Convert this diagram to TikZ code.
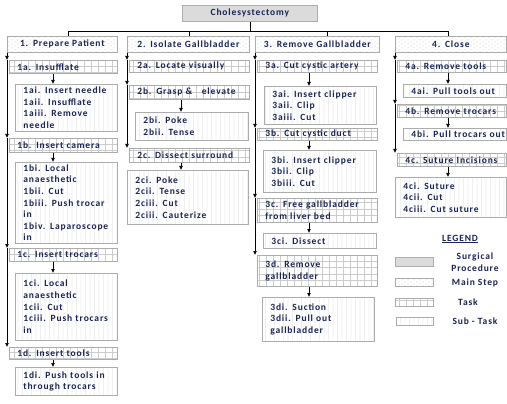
\documentclass[tikz,border=0pt]{standalone}
\usepackage{fontspec}
\setmainfont{Carlito}[LetterSpace=9]
\usepackage{tikz}
\usetikzlibrary{arrows.meta,patterns.meta}

\definecolor{ink}{RGB}{25,35,85}

% Muster
\tikzdeclarepattern{name=procdots, type=uncolored,
  bottom left={(-.5pt,-.5pt)}, top right={(2.5pt,2.5pt)}, tile size={(2pt,2pt)},
  code={\fill (0pt,0pt) circle[radius=.35pt]; \fill (1pt,1pt) circle[radius=.35pt];}}
\tikzdeclarepattern{name=stepdots, type=uncolored,
  bottom left={(-1pt,-1pt)}, top right={(7pt,5pt)}, tile size={(6pt,4pt)},
  code={\fill (0pt,0pt) circle[radius=.5pt]; \fill (3pt,2pt) circle[radius=.5pt];}}
\tikzdeclarepattern{name=taskgrid, type=uncolored,
  bottom left={(-.5pt,-.5pt)}, top right={(7.5pt,7pt)}, tile size={(7pt,6.5pt)},
  code={\draw[line width=.4pt] (0pt,0pt) -- (7pt,0pt); \draw[line width=.4pt] (0pt,0pt) -- (0pt,6.5pt);}}
\tikzdeclarepattern{name=subdots, type=uncolored,
  bottom left={(-.5pt,-.5pt)}, top right={(5pt,2.5pt)}, tile size={(4.5pt,2pt)},
  code={\fill (0pt,0pt) circle[radius=.4pt];}}

\begin{document}
\begin{tikzpicture}[x=1pt, y=-1pt,
  every node/.style={font=\bfseries\fontsize{9.5}{11.6}\selectfont, text=ink},
  bx/.style 2 args={anchor=north west, minimum width=#1pt, minimum height=#2pt,
    text width=#1pt-6pt, inner xsep=3pt, inner ysep=1pt},
  lpad/.style={align=left, execute at begin node={\leftskip=5pt\rightskip=0pt minus 30pt\relax}},
  proc/.style={draw=gray!65, line width=.7pt, fill=gray!22,
    postaction={pattern=procdots, pattern color=gray!55}},
  mstep/.style={draw=gray!65, line width=.7pt, pattern=stepdots, pattern color=gray!55},
  task/.style={draw=gray!65, line width=.7pt, pattern=taskgrid, pattern color=gray!40},
  subtask/.style={draw=gray!65, line width=.7pt, pattern=subdots, pattern color=gray!55},
  lbox/.style 2 args={anchor=north west, minimum width=#1pt, minimum height=#2pt, inner sep=0pt},
  link/.style={line width=.7pt, black},
  arr/.style={line width=.7pt, black, -{Latex[length=4pt,width=4pt]}}
]
  \useasboundingbox (0,0) rectangle (507,404);

  % Eingriff
  \node[proc, bx={135}{16}, align=center] (op) at (182,5) {Cholesystectomy};

  % Hauptschritte
  \node[mstep, bx={110}{16}, align=center] (s1) at (7,36) {1. Prepare Patient};
  \node[mstep, bx={122}{16}, align=center] (s2) at (127,36) {2. Isolate Gallbladder};
  \node[mstep, bx={124}{16}, align=center] (s3) at (255,36) {3. Remove Gallbladder};
  \node[mstep, bx={111}{16}, align=center] (s4) at (395,36) {4. Close};

  % Spalte 1
  \node[task, lpad, bx={108}{13}] (t1a) at (9,60) {1a. Insufflate};
  \node[subtask, lpad, bx={102}{47}] (u1a) at (15,84) {1ai. Insert needle\\1aii. Insufflate\\1aiii. Remove\\needle};
  \node[task, lpad, bx={108}{14}] (t1b) at (9,138) {1b. Insert camera};
  \node[subtask, lpad, bx={102}{81}] (u1b) at (15,162) {1bi. Local\\anaesthetic\\1bii. Cut\\1biii. Push trocar\\in\\1biv. Laparoscope\\in};
  \node[task, lpad, bx={108}{13}] (t1c) at (9,248) {1c. Insert trocars};
  \node[subtask, lpad, bx={102}{67}] (u1c) at (15,273) {1ci. Local\\anaesthetic\\1cii. Cut\\1ciii. Push trocars\\in};
  \node[task, lpad, bx={108}{12}] (t1d) at (9,347) {1d. Insert tools};
  \node[subtask, lpad, bx={102}{28}] (u1d) at (15,367) {1di. Push tools in\\through trocars};

  % Spalte 2
  \node[task, lpad, bx={120}{12}] (t2a) at (129,60) {2a. Locate visually};
  \node[task, lpad, bx={120}{14}] (t2b) at (129,85) {2b. Grasp \&\ \ \ elevate};
  \node[subtask, lpad, bx={113}{28}] (u2b) at (135,112) {2bi. Poke\\2bii. Tense};
  \node[task, lpad, bx={120}{14}] (t2c) at (129,148) {2c. Dissect surround};
  \node[subtask, lpad, bx={121}{54}] (u2c) at (127,170) {2ci. Poke\\2cii. Tense\\2ciii. Cut\\2ciii. Cauterize};

  % Spalte 3
  \node[task, lpad, bx={120}{12}] (t3a) at (257,60) {3a. Cut cystic artery};
  \node[subtask, lpad, bx={112}{38}] (u3a) at (264,86) {3ai. Insert clipper\\3aii. Clip\\3aiii. Cut};
  \node[task, lpad, bx={120}{12}] (t3b) at (257,128) {3b. Cut cystic duct};
  \node[subtask, lpad, bx={113}{42}] (u3b) at (263,150) {3bi. Insert clipper\\3bii. Clip\\3biii. Cut};
  \node[task, lpad, bx={120}{24}] (t3c) at (257,198) {3c. Free gallbladder\\from liver bed};
  \node[subtask, lpad, bx={113}{15}] (u3c) at (263,233) {3ci. Dissect};
  \node[task, lpad, bx={120}{31}] (t3d) at (257,255) {3d. Remove\\gallbladder};
  \node[subtask, lpad, bx={112}{44}] (u3d) at (262,297) {3di. Suction\\3dii. Pull out\\gallbladder};

  % Spalte 4
  \node[task, lpad, bx={109}{12}] (t4a) at (397,60) {4a. Remove tools};
  \node[subtask, lpad, bx={103}{13}] (u4a) at (403,84) {4ai. Pull tools out};
  \node[task, lpad, bx={109}{13}] (t4b) at (397,104) {4b. Remove trocars};
  \node[subtask, lpad, bx={103}{12}] (u4b) at (403,128) {4bi. Pull trocars out};
  \node[task, lpad, bx={109}{13}] (t4c) at (397,153) {4c. Suture Incisions};
  \node[subtask, lpad, bx={111}{40}] (u4c) at (395,177) {4ci. Suture\\4cii. Cut\\4ciii. Cut suture};

  % Verteiler
  \coordinate (b1) at (68,31);
  \coordinate (b2) at (189,31);
  \coordinate (b3) at (327,31);
  \coordinate (b4) at (448,31);
  \draw[link] (op.south) -- (op.south |- b1);
  \draw[link] (b1) -- (b4);
  \foreach \i in {1,...,4} {\draw[link] (b\i) -- (b\i |- s\i.north);}

  % Staemme
  \draw[arr] (s1.south west) -- (s1.south west |- t1a.north);
  \foreach \a/\b in {t1a/t1b, t1b/t1c, t1c/t1d} {\draw[arr] (s1.south west |- \a.north) -- (s1.south west |- \b.north);}
  \draw[arr] (s2.south west) -- (s2.south west |- t2a.north);
  \foreach \a/\b in {t2a/t2b, t2b/t2c} {\draw[arr] (s2.south west |- \a.north) -- (s2.south west |- \b.north);}
  \draw[arr] (s3.south west) -- (s3.south west |- t3a.north);
  \foreach \a/\b in {t3a/t3b, t3b/t3c, t3c/t3d} {\draw[arr] (s3.south west |- \a.north) -- (s3.south west |- \b.north);}
  \draw[arr] (s4.south west) -- (s4.south west |- t4a.north);
  \foreach \a/\b in {t4a/t4b, t4b/t4c} {\draw[arr] (s4.south west |- \a.north) -- (s4.south west |- \b.north);}

  % Unteraufgaben
  \coordinate (k1) at (53,0);
  \coordinate (k2) at (181,0);
  \coordinate (k3) at (309,0);
  \coordinate (k4) at (448,0);
  \foreach \t/\u/\k in {t1a/u1a/k1, t1b/u1b/k1, t1c/u1c/k1, t1d/u1d/k1,
      t2b/u2b/k2, t2c/u2c/k2, t3a/u3a/k3, t3b/u3b/k3, t3c/u3c/k3, t3d/u3d/k3,
      t4a/u4a/k4, t4b/u4b/k4, t4c/u4c/k4}
    {\draw[arr] (\t.south -| \k) -- (\u.north -| \k);}

  % Legende
  \node (lg) at (460,239) {\underline{LEGEND}};
  \node[proc, lbox={38}{9}] (lb1) at (395,257) {};
  \node[mstep, lbox={38}{8}] (lb2) at (395,278) {};
  \node[task, lbox={38}{8}] (lb3) at (395,298) {};
  \node[subtask, lbox={37}{8}] (lb4) at (396,317) {};
  \node[align=center] (lt1) at (475,262) {Surgical\\Procedure};
  \node (lt2) at (475,283) {Main Step};
  \node (lt3) at (468,302) {Task};
  \node (lt4) at (475,321) {Sub - Task};
\end{tikzpicture}
\end{document}
